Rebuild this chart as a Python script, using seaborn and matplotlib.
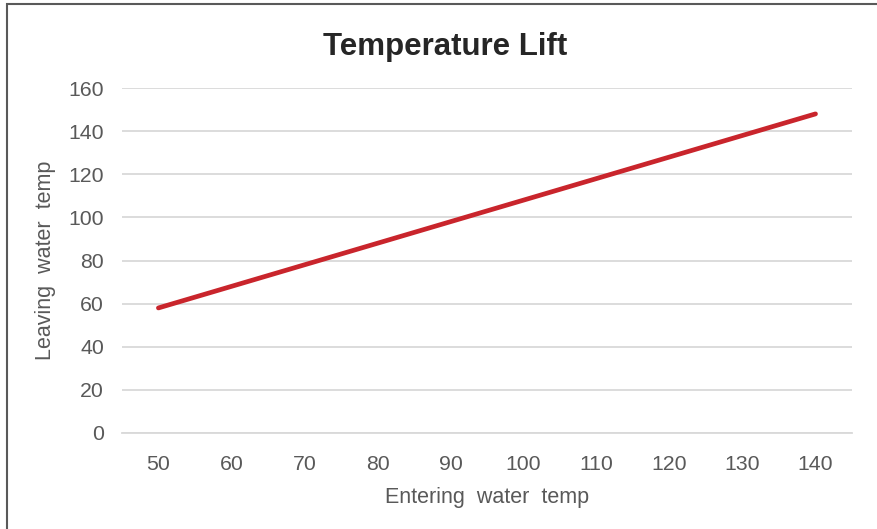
import matplotlib
matplotlib.use("Agg")
import matplotlib.pyplot as plt
import seaborn as sns
import pandas as pd
from matplotlib.patches import Rectangle

entering = [50, 60, 70, 80, 90, 100, 110, 120, 130, 140]
leaving = [58, 68, 78, 88, 98, 108, 118, 128, 138, 148]
y_ticks = [0, 20, 40, 60, 80, 100, 120, 140, 160]

sns.set_theme(style="white")
plt.rcParams['font.family'] = ['Liberation Sans', 'DejaVu Sans']

df = pd.DataFrame({"entering": [str(v) for v in entering], "leaving": leaving})

fig = plt.figure(figsize=(8.77, 5.29), dpi=100)
ax = fig.add_axes([0.139, 0.1815, 0.8325, 0.6521])

sns.lineplot(data=df, x="entering", y="leaving", ax=ax, color="#C9252C",
             linewidth=3.4, sort=False, solid_capstyle="round")

ax.set_xlim(-0.5, len(entering) - 0.5)
ax.set_ylim(0, 160)
ax.set_yticks(y_ticks)
ax.set_yticklabels([str(v) for v in y_ticks])
ax.yaxis.grid(True, color="#D9D9D9", linewidth=1.3)
ax.xaxis.grid(False)
for s in ["top", "right", "left"]:
    ax.spines[s].set_visible(False)
ax.spines["bottom"].set_color("#D9D9D9")
ax.spines["bottom"].set_linewidth(1.3)
ax.tick_params(axis="both", length=0, labelsize=15.3, labelcolor="#595959")
ax.tick_params(axis="y", pad=13)
ax.tick_params(axis="x", pad=16)

ax.set_xlabel("Entering  water  temp", fontsize=15.5, color="#595959", labelpad=9)
ax.set_ylabel("Leaving  water  temp", fontsize=15.5, color="#595959", labelpad=9)
fig.text(0.508, 0.911, "Temperature Lift", ha="center", va="center",
         fontsize=22.5, fontweight="bold", color="#262626")

fig.patches.append(Rectangle((7 / 877, -0.05), 1.2, 1 - 4 / 529 + 0.05,
                             transform=fig.transFigure, fill=False,
                             edgecolor="#595959", linewidth=1.5))

fig.savefig("out.png", dpi=100)
